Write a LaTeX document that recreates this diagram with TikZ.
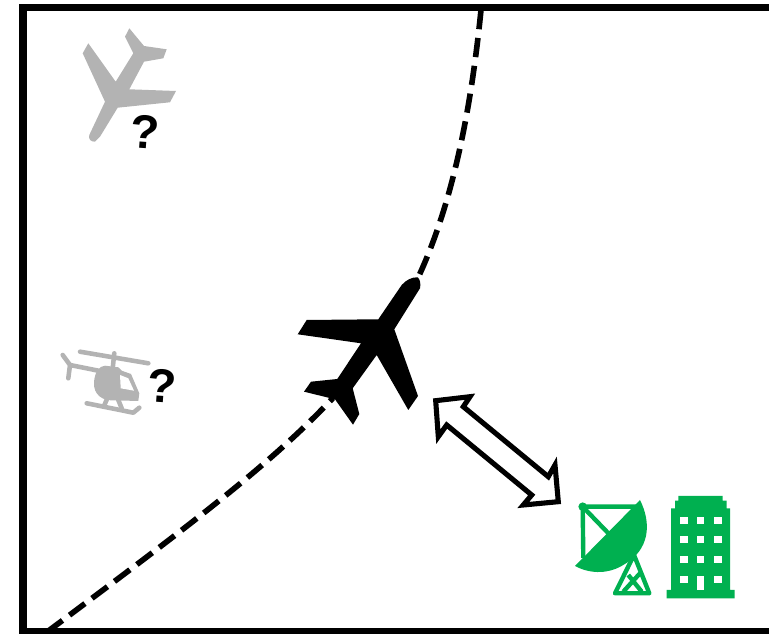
\documentclass[tikz,border=0pt]{standalone}
\usepackage{fontspec}
\setmainfont{Liberation Sans}
\definecolor{planegray}{HTML}{B3B3B3}
\definecolor{sitegreen}{HTML}{00B050}

\begin{document}
\begin{tikzpicture}[x=.02cm,y=-.02cm,
  track/.style={line width=3.2pt,dash pattern=on 11pt off 5pt},
  query/.style={font=\fontsize{27}{27}\selectfont\bfseries,inner sep=0pt},
  sitepart/.style={draw=sitegreen,line width=2.5pt,line join=round},
  heli/.style={draw=planegray,line width=2.6pt,line cap=round,line join=round}]
\useasboundingbox (0,0) rectangle (769,634);
\draw[line width=4.2pt] (775,7.5) -- (23,7.5) -- (23,632) -- (775,632);
\draw[track] (481,10) .. controls (470,120) and (450,210) .. (417,280);
\draw[track] (47,632) .. controls (190,525) and (270,465) .. (333,398);
\fill (417.7,277.3) .. controls (420,279) and (421,284) .. (420,288.3) -- (394.3,329.3) -- (418,396) -- (408.3,410) -- (376.7,355) -- (352.7,388.3) -- (359.3,414) -- (353,424.7) -- (335,399.3) -- (304,391.7) -- (311,381.7) -- (337.3,379) -- (361,343.3) -- (297.7,334.3) -- (306.7,320) -- (378.3,319.3) -- (401.7,285) .. controls (406,280) and (412,277) .. cycle;
\fill[planegray] (95,141.7) .. controls (91,142) and (88,139) .. (89.3,135) -- (105,101.7) -- (82.7,53.3) -- (88.3,43.3) -- (115.7,81.7) -- (133.3,53.3) -- (125,36.7) -- (129.3,28.3) -- (144,46) -- (166.7,49.3) -- (163.3,58.3) -- (144,61.7) -- (129.3,89.3) -- (176,91) -- (170,102.3) -- (117.7,107.7) -- (100,136.7) -- cycle;
\node[query,rotate=-4] (planequery) at (145,132) {?};
\draw[heli] (80,351.7) -- (148.3,363.3);
\draw[heli] (114.3,353.3) -- (112.7,368.3);
\draw[heli] (62.7,355) -- (70,365) -- (68.3,378.3);
\draw[heli] (70,365) -- (103.3,371.7);
\draw[heli] (86.7,403.3) -- (133.3,412.7) -- (139.3,407.7);
\draw[heli] (107.3,398.3) -- (104,406);
\draw[heli] (118.3,400) -- (121.7,408.3);
\fill[planegray] (94,381.7) .. controls (95,372) and (99,366) .. (105,365.7) -- (118.3,367.3) -- (121.7,370.7) -- (131,374) -- (139.3,393.3) -- (138.3,401) -- (113.3,400.3) .. controls (103,401) and (93,395) .. cycle;
\fill[white] (120,375) -- (128.3,378.3) -- (134,390.7) -- (120.7,388.3) -- cycle;
\node[query,rotate=-4] (heliquery) at (162,386) {?};
\draw[line width=2.9pt,fill=white,miter limit=10] (435.7,400.7) -- (470,396.7) -- (463.3,406.7) -- (548.3,476.7) -- (555,465) -- (558.3,501.7) -- (523.3,505) -- (531.7,495) -- (446.7,425) -- (438.3,436.7) -- cycle;
\fill[sitegreen] (640,500) .. controls (651.7,523.3) and (650,550) .. (623.3,565) .. controls (610,573.3) and (591.7,575) .. (575,566) -- cycle;
\fill[sitegreen] (582.7,506.7) circle (4.3);
\draw[sitepart] (640,506.7) -- (582.7,506.7) -- (583.3,558);
\draw[sitepart] (582.7,506.7) -- (610,535);
\draw[sitepart] (634,555) -- (615,593.3) -- (649.3,593.3) -- cycle;
\draw[sitepart] (623.3,591.7) -- (640,573.3);
\draw[sitepart] (641.7,591.7) -- (628.3,575);
\fill[sitegreen] (678.3,496) -- (722.7,496) -- (722.7,500.7) -- (726.7,500.7) -- (726.7,508.3) -- (730,508.3) -- (730,590) -- (734.7,590) -- (734.7,598.3) -- (666.7,598.3) -- (666.7,590) -- (671,590) -- (671,508.3) -- (675,508.3) -- (675,500.7) -- (678.3,500.7) -- cycle;
\foreach \winx in {680,696.7,714}
  \foreach \winy in {516.7,536,556}
    \fill[white] (\winx,\winy) rectangle +(7.5,7.5);
\fill[white] (680,575.7) rectangle +(7.5,7.5);
\fill[white] (696.7,575.7) rectangle (704.3,590);
\fill[white] (714,575.7) rectangle +(7.5,7.5);
\end{tikzpicture}
\end{document}
